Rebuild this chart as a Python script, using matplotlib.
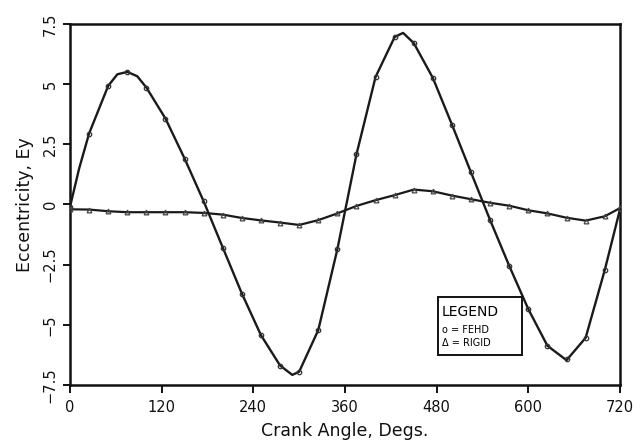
import matplotlib
matplotlib.use("Agg")
import matplotlib.pyplot as plt
from matplotlib.patches import Rectangle

# ---- data ----
crank_angle = [0, 25, 50, 75, 100, 125, 150, 175, 200, 225, 250, 275, 300, 325,
               350, 375, 400, 425, 450, 475, 500, 525, 550, 575, 600, 625, 650,
               675, 700, 720]
fehd = [-0.1, 2.95, 4.93, 5.51, 4.86, 3.57, 1.91, 0.13, -1.79, -3.70, -5.43,
        -6.69, -6.95, -5.22, -1.86, 2.08, 5.30, 6.96, 6.71, 5.26, 3.32, 1.33,
        -0.65, -2.55, -4.35, -5.87, -6.44, -5.54, -2.73, -0.2]
rigid = [-0.2, -0.21, -0.28, -0.32, -0.32, -0.32, -0.32, -0.35, -0.42, -0.56,
         -0.66, -0.75, -0.85, -0.65, -0.37, -0.06, 0.18, 0.39, 0.62, 0.55, 0.37,
         0.22, 0.07, -0.05, -0.24, -0.37, -0.55, -0.67, -0.49, -0.15]

# FEHD line: marker points plus extra points
fehd_line_x = [0, 12, 25, 50, 62, 75, 88, 100, 125, 150, 175, 200, 225, 250,
               275, 291, 300, 325, 350, 375, 400, 425, 436, 450, 475, 500, 525,
               550, 575, 600, 625, 650, 675, 700, 720]
fehd_line_y = [-0.1, 1.5, 2.95, 4.93, 5.41, 5.51, 5.33, 4.86, 3.57, 1.91, 0.13,
               -1.79, -3.70, -5.43, -6.69, -7.08, -6.95, -5.22, -1.86, 2.08,
               5.30, 6.96, 7.13, 6.71, 5.26, 3.32, 1.33, -0.65, -2.55, -4.35,
               -5.87, -6.47, -5.54, -2.73, -0.2]

x_ticks = [0, 120, 240, 360, 480, 600, 720]
y_ticks = [-7.5, -5, -2.5, 0, 2.5, 5, 7.5]
y_tick_labels = ["\u22127.5", "\u22125", "\u22122.5", "0", "2.5", "5", "7.5"]
legend_lines = ["LEGEND", "o = FEHD", "\u0394 = RIGID"]

plt.rcParams['font.family'] = ['DejaVu Sans']

fig = plt.figure(figsize=(6.43, 4.46), dpi=100)
ax = fig.add_axes([70 / 643, 61 / 446, 550 / 643, 361 / 446])

lc = '#1a1a1a'
ax.plot(fehd_line_x, fehd_line_y, color=lc, lw=1.7, zorder=3,
        solid_joinstyle='round')
ax.plot(crank_angle, fehd, ls='none', marker='o', ms=3.2, mfc='none',
        mec='#333333', mew=0.9, zorder=4)
ax.plot(crank_angle, rigid, color=lc, lw=1.6, zorder=3,
        solid_joinstyle='round')
ax.plot(crank_angle, rigid, ls='none', marker='^', ms=3.4, mfc='none',
        mec='#444444', mew=0.9, zorder=4)

ax.set_xlim(0, 720)
ax.set_ylim(-7.5, 7.5)
ax.set_xticks(x_ticks)
ax.set_yticks(y_ticks)
ax.set_yticklabels(y_tick_labels, rotation=90, va='center')
ax.tick_params(axis='both', direction='out', length=5, width=1.4,
               labelsize=10.5, colors='#111111')
ax.tick_params(axis='x', length=6, pad=5)
ax.tick_params(axis='y', pad=4)
for s in ax.spines.values():
    s.set_linewidth(1.8)
    s.set_color('#111111')

ax.set_xlabel("Crank Angle, Degs.", fontsize=12.5, labelpad=5, color='#111111')
ax.set_ylabel("Eccentricity, Ey", fontsize=12.5, labelpad=6, color='#111111')

# legend box
ax.add_patch(Rectangle((0.6685, 0.083), 0.1535, 0.1615, transform=ax.transAxes,
                       fill=True, fc='white', ec='#111111', lw=1.4, zorder=5))
ax.text(0.676, 0.203, legend_lines[0], transform=ax.transAxes, fontsize=10,
        va='center', ha='left', zorder=6, family='DejaVu Sans Condensed')
ax.text(0.676, 0.152, legend_lines[1], transform=ax.transAxes, fontsize=7,
        va='center', ha='left', zorder=6, family='DejaVu Sans Condensed')
ax.text(0.676, 0.117, legend_lines[2], transform=ax.transAxes, fontsize=7,
        va='center', ha='left', zorder=6, family='DejaVu Sans Condensed')

fig.savefig("out.png", dpi=100)
